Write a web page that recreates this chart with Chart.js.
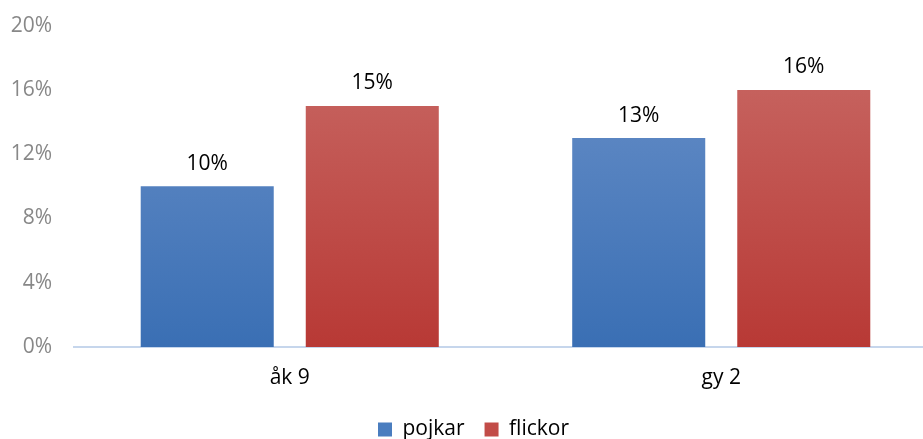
<!DOCTYPE html>
<html>
<head>
<meta charset="utf-8">
<script src="https://cdn.jsdelivr.net/npm/chart.js@4"></script>
<style>
  html, body { margin: 0; padding: 0; background: #fff; overflow: hidden; }
  #wrap { width: 937px; height: 459px; position: relative; top: -9px; }
</style>
</head>
<body>
<div id="wrap"><canvas id="myChart"></canvas></div>
<script>
const categories = ['åk 9', 'gy 2'];
const pojkar = [10, 13];
const flickor = [15, 16];
const yTicks = [0, 4, 8, 12, 16, 20];

const font = "'Open Sans', 'Liberation Sans', sans-serif";

// vertical gradient per bar, light at top, darker at bottom
function gradient(top, bottom) {
  return (c) => {
    const area = c.chart.chartArea;
    if (!area) return bottom;
    const el = c.element;
    const y0 = el && el.y !== undefined ? el.y : area.top;
    const y1 = el && el.base !== undefined ? el.base : area.bottom;
    if (!isFinite(y0) || !isFinite(y1) || y0 === y1) return bottom;
    const g = c.chart.ctx.createLinearGradient(0, y0, 0, y1);
    g.addColorStop(0, top);
    g.addColorStop(1, bottom);
    return g;
  };
}

const valueLabels = {
  id: 'valueLabels',
  afterDatasetsDraw(chart) {
    const ctx = chart.ctx;
    ctx.save();
    ctx.font = '21px ' + font;
    ctx.fillStyle = '#000';
    ctx.textAlign = 'center';
    ctx.textBaseline = 'bottom';
    chart.data.datasets.forEach((ds, i) => {
      chart.getDatasetMeta(i).data.forEach((bar, j) => {
        ctx.fillText(ds.data[j] + '%', bar.x, bar.y - 12);
      });
    });
    ctx.restore();
  }
};

const config = {
  type: 'bar',
  data: {
    labels: categories,
    datasets: [
      {
        label: 'pojkar',
        data: pojkar,
        backgroundColor: gradient('#6b91c9', '#3a6fb4'),
        categoryPercentage: 0.765,
        barPercentage: 0.806
      },
      {
        label: 'flickor',
        data: flickor,
        backgroundColor: gradient('#c96b67', '#b83935'),
        categoryPercentage: 0.765,
        barPercentage: 0.806
      }
    ]
  },
  options: {
    responsive: true,
    maintainAspectRatio: false,
    animation: false,
    layout: { padding: { top: 1, left: 10, right: 0, bottom: 0 } },
    plugins: {
      tooltip: { enabled: false },
      legend: {
        position: 'bottom',
        labels: {
          boxWidth: 14,
          boxHeight: 14,
          padding: 20,
          color: '#000',
          font: { family: font, size: 21 },
          generateLabels: (chart) => [
            { text: 'pojkar', fillStyle: '#4a7dbf', strokeStyle: '#4a7dbf', lineWidth: 0, datasetIndex: 0 },
            { text: 'flickor', fillStyle: '#c24c48', strokeStyle: '#c24c48', lineWidth: 0, datasetIndex: 1 }
          ]
        }
      }
    },
    scales: {
      x: {
        grid: { display: false, drawTicks: false },
        border: { display: true, color: '#c6d6ec', width: 2 },
        ticks: { color: '#000', font: { family: font, size: 21 }, padding: 18 },
        afterFit: (axis) => { axis.height = 52; }
      },
      y: {
        min: 0,
        max: 20,
        afterBuildTicks: (axis) => { axis.ticks = yTicks.map(v => ({ value: v })); },
        afterFit: (axis) => { axis.width = 64; },
        grid: { display: false, drawTicks: false },
        border: { display: false },
        ticks: {
          color: '#888',
          font: { family: font, size: 21 },
          padding: 22,
          callback: (v) => v + '%'
        }
      }
    }
  },
  plugins: [valueLabels]
};

new Chart(document.getElementById('myChart'), config);
</script>
</body>
</html>
